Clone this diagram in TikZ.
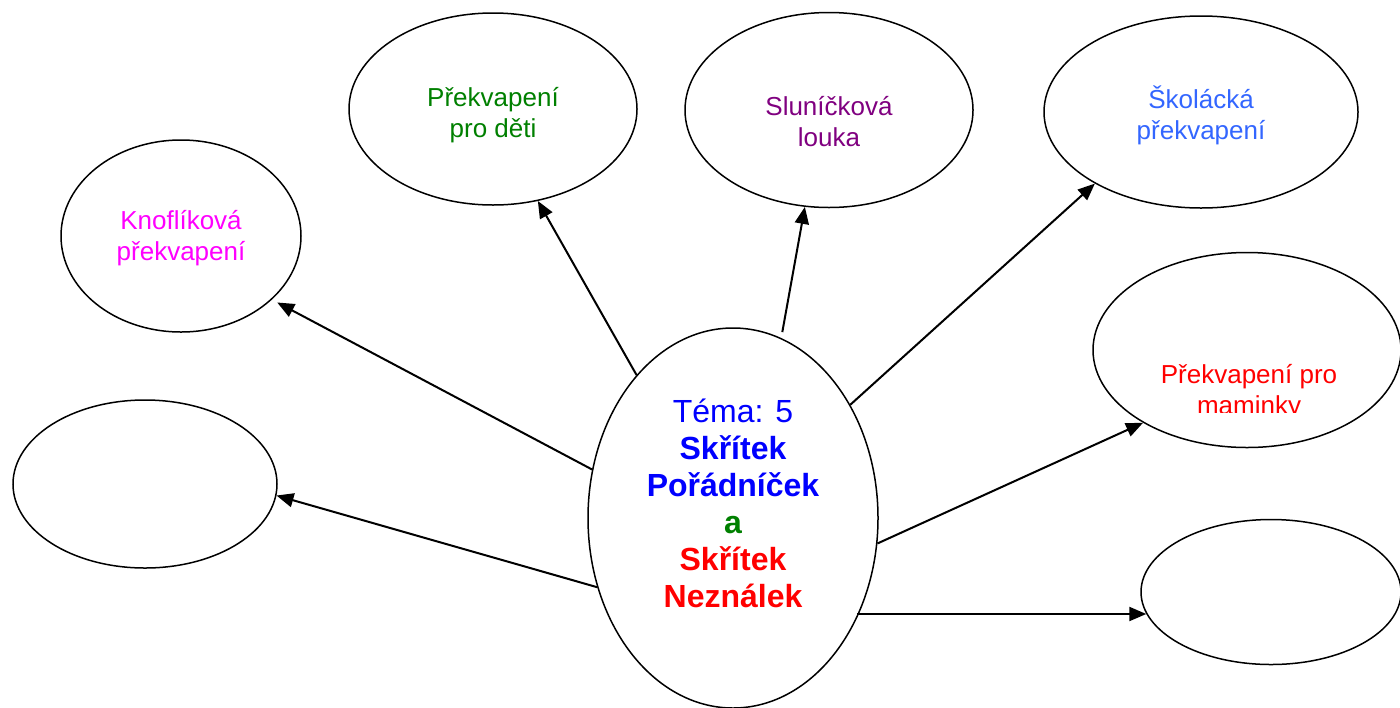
\documentclass[tikz,border=0pt]{standalone}
\usepackage{fontspec}
\setmainfont{Liberation Sans}
\usetikzlibrary{shapes.geometric,arrows.meta}
\definecolor{tblue}{RGB}{0,0,255}
\definecolor{tgreen}{RGB}{0,128,0}
\definecolor{tred}{RGB}{255,0,0}
\definecolor{tmag}{RGB}{255,0,255}
\definecolor{tpurple}{RGB}{128,0,128}
\definecolor{tsky}{RGB}{51,102,255}
\begin{document}
\begin{tikzpicture}[x=0.5pt,y=-0.5pt,
  bub/.style={draw,ellipse,line width=0.75pt,inner sep=0pt},
  lbl/.style={font=\fontsize{13}{15.5}\selectfont,align=center,inner sep=0pt},
  big/.style={font=\fontsize{16}{18.5}\selectfont,align=center,inner sep=0pt},
  arr/.style={line width=1pt,-{Triangle[length=8.5pt,width=7pt]}}]
\clip (0,0) rectangle (1400,707);
\fill[white] (0,0) rectangle (1400,707);
% bubbles
\node[bub,minimum width=145pt,minimum height=190pt] (c) at (733,518) {};
\node[bub,minimum width=120pt,minimum height=96pt] (k) at (181,236) {};
\node[bub,minimum width=144pt,minimum height=96pt] (d) at (493,109) {};
\node[bub,minimum width=144pt,minimum height=97.5pt] (s) at (829,110) {};
\node[bub,minimum width=157pt,minimum height=96pt] (sk) at (1201,112) {};
\node[bub,minimum width=154pt,minimum height=97.5pt] (m) at (1247,350) {};
\node[bub,minimum width=130pt,minimum height=72.5pt] (br) at (1271,592) {};
\node[bub,minimum width=132pt,minimum height=84pt] (l) at (145,484) {};
% labels
\node[big] (ct) at (733,503.5) {{\color{tblue}Téma: 5}\\{\color{tblue}\bfseries Skřítek}\\{\color{tblue}\bfseries Pořádníček}\\{\color{tgreen}\bfseries a}\\{\color{tred}\bfseries Skřítek}\\{\color{tred}\bfseries Neználek}};
\node[lbl,text=tmag] (tk) at (181,238) {Knoflíková\\překvapení};
\node[lbl,text=tgreen] (td) at (493,115) {Překvapení\\pro děti};
\node[lbl,text=tpurple] (ts) at (829,122) {Sluníčková\\louka};
\node[lbl,text=tsky] (tsk) at (1201,115) {Školácká\\překvapení};
\begin{scope}
\clip (1093,250) rectangle (1400,412);
\node[lbl,text=tred] (tm) at (1249,392) {Překvapení pro\\maminky};
\end{scope}
% connectors
\draw[arr,shorten >=3pt] (c.161.7) -- (k.-35.9);
\draw[arr] (c.124.1) -- (d.-64.6);
\draw[arr,shorten <=3pt] (c.75.8) -- (s.256.8);
\draw[arr] (c.44) -- (sk.214.1);
\draw[arr] (c.-10.5) -- (m.215);
\draw[arr] (br.190.4 -| c.-39.2) -- (br.190.4);
\draw[arr] (c.-153) -- (l.-5.6);
\end{tikzpicture}
\end{document}
